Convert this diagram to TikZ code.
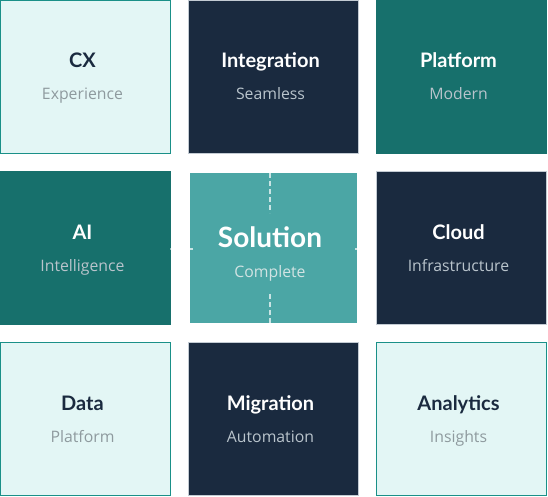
\documentclass[tikz,border=0pt]{standalone}
\usepackage{fontspec}
\newfontfamily\titlefont{Lato}[BoldFont={* Bold}]
\newfontfamily\subfont{Open Sans}
\definecolor{lightfill}{HTML}{E3F6F5}
\definecolor{tealborder}{HTML}{1A9088}
\definecolor{navy}{HTML}{1A2A3F}
\definecolor{darkteal}{HTML}{17706C}
\definecolor{soltel}{HTML}{4BA6A5}
\definecolor{grayborder}{HTML}{C3CBD3}
\definecolor{subgray}{HTML}{8E9A9E}
\definecolor{sublight}{HTML}{B9C4CC}
\definecolor{solsub}{HTML}{D2E3E3}
\tikzset{
  x=1pt,y=-1pt,
  cell/.style={rectangle,inner sep=0pt,minimum width=170pt,minimum height=153pt,line width=1pt},
  lightcell/.style={cell,fill=lightfill,draw=tealborder},
  navycell/.style={cell,fill=navy,draw=grayborder},
  tealcell/.style={cell,fill=darkteal,draw=darkteal},
  solcell/.style={rectangle,inner sep=0pt,minimum width=167pt,minimum height=150pt,fill=soltel},
  ttl/.style={inner sep=0pt,anchor=base,font=\titlefont\bfseries\fontsize{20}{24}\selectfont},
  sub/.style={inner sep=0pt,anchor=base,font=\subfont\fontsize{15.8}{19}\selectfont},
  darkttl/.style={ttl,text=navy},
  whitettl/.style={ttl,text=white},
  lightsub/.style={sub,text=subgray},
  darksub/.style={sub,text=sublight},
  link/.style={draw=white,draw opacity=0.7,line width=2pt,dash pattern=on 5pt off 3pt}
}
\begin{document}
\begin{tikzpicture}
\useasboundingbox (0,0) rectangle (548,497);
% row 1
\node[lightcell] (cx) at (85.5,77) {};
\node[darkttl] (cxt) at (82.5,68) {CX};
\node[lightsub] (cxs) at (82.5,100) {Experience};
\node[navycell] (int) at (273.5,77) {};
\node[whitettl] (intt) at (270.5,68) {Integration};
\node[darksub] (ints) at (270.5,100) {Seamless};
\node[tealcell] (plat) at (461.5,77) {};
\node[whitettl] (platt) at (458.5,68) {Platform};
\node[darksub] (plats) at (458.5,100) {Modern};
% row 2
\node[tealcell] (ai) at (85.5,248) {};
\node[whitettl] (ait) at (82.5,239) {AI};
\node[darksub] (ais) at (82.5,271) {Intelligence};
\node[navycell] (cloud) at (461.5,248) {};
\node[whitettl] (cloudt) at (458.5,239) {Cloud};
\node[darksub] (clouds) at (458.5,271) {Infrastructure};
\node[solcell] (sol) at (273.5,248) {};
% links
\coordinate (topend) at (270,213);
\coordinate (botend) at (270,292);
\draw[link] (270,173) -- (topend);
\draw[link] (270,323) -- (botend);
\coordinate (lend) at (193,249);
\coordinate (rend) at (354.5,249);
\draw[line width=2pt,white,opacity=0.7] (sol.west |- lend) -- (lend);
\draw[line width=2pt,white,opacity=0.7] (sol.east |- rend) -- (rend);
\draw[line width=2pt,white,opacity=0.5] (170,249) -- (172,249);
\node[whitettl,font=\titlefont\bfseries\fontsize{28}{32}\selectfont] (solt) at (270,247) {Solution};
\node[sub,text=solsub] (sols) at (270,277) {Complete};
% row 3
\node[lightcell] (data) at (85.5,419) {};
\node[darkttl] (datat) at (82.5,410) {Data};
\node[lightsub] (datas) at (82.5,442) {Platform};
\node[navycell] (mig) at (273.5,419) {};
\node[whitettl] (migt) at (270.5,410) {Migration};
\node[darksub] (migs) at (270.5,442) {Automation};
\node[lightcell] (ana) at (461.5,419) {};
\node[darkttl] (anat) at (458.5,410) {Analytics};
\node[lightsub] (anas) at (458.5,442) {Insights};
\end{tikzpicture}
\end{document}
